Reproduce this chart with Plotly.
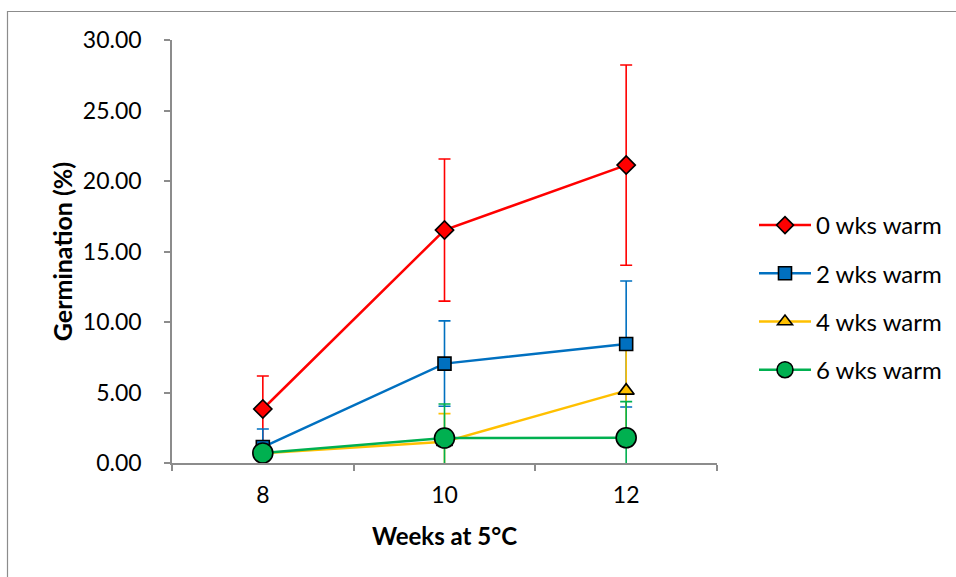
import plotly.graph_objects as go

weeks = ["8", "10", "12"]
names = ["0 wks warm", "2 wks warm", "4 wks warm", "6 wks warm"]
values = [
    [3.83, 16.52, 21.13],
    [1.13, 7.05, 8.44],
    [0.70, 1.50, 5.13],
    [0.71, 1.77, 1.79],
]
errors = [
    [2.34, 5.04, 7.10],
    [1.28, 3.03, 4.47],
    [0.30, 2.00, 3.10],
    [0.30, 2.41, 2.56],
]
colors = ["#FF0000", "#0070C0", "#FFC000", "#00B050"]
symbols = ["diamond", "square", "triangle-up", "circle"]
sizes = [14, 13, 14, 20]
legend_sizes = [13, 13, 13, 16]

W, H = 956, 577
ml, mr, mt, mb = 172, 239, 40, 114
pw, ph = W - ml - mr, H - mt - mb

fig = go.Figure()
# lines and error bars first
for n, v, e, c in zip(names, values, errors, colors):
    fig.add_trace(go.Scatter(
        x=weeks, y=v, mode="lines", line=dict(color=c, width=2.5),
        error_y=dict(type="data", array=e, visible=True, color=c, thickness=1.6, width=6),
        showlegend=False, hoverinfo="skip"))
# markers on top
for n, v, c, s, sz in zip(names, values, colors, symbols, sizes):
    fig.add_trace(go.Scatter(
        x=weeks, y=v, mode="markers",
        marker=dict(symbol=s, size=sz, color=c, line=dict(color="black", width=1.6)),
        showlegend=False, name=n))
# legend entries
for n, c, s, sz in zip(names, colors, symbols, legend_sizes):
    fig.add_trace(go.Scatter(
        x=[None], y=[None], mode="lines+markers", name=n, legendgroup=n,
        line=dict(color=c, width=2.5),
        marker=dict(symbol=s, size=sz, color=c, line=dict(color="black", width=1.6))))

def px2paper_x(px):
    return (px - ml) / pw

def px2paper_y(py):
    return (H - mb - py) / ph

fig.add_shape(type="rect", xref="paper", yref="paper",
              x0=px2paper_x(7.5), x1=px2paper_x(W + 20),
              y0=px2paper_y(H + 20), y1=px2paper_y(11.5),
              line=dict(color="#8C8C8C", width=1.2), fillcolor="rgba(0,0,0,0)", layer="below")

font = "Lato, 'Open Sans', sans-serif"
fig.update_layout(
    width=W, height=H,
    margin=dict(l=ml, r=mr, t=mt, b=mb, pad=0, autoexpand=False),
    plot_bgcolor="white", paper_bgcolor="white",
    font=dict(family=font, size=23, color="black"),
    showlegend=True,
    legend=dict(x=px2paper_x(754), y=px2paper_y(203), xanchor="left", yanchor="top",
                font=dict(size=24), tracegroupgap=14, itemsizing="trace",
                itemwidth=52, bgcolor="rgba(0,0,0,0)"),
    xaxis=dict(type="category", categoryorder="array", categoryarray=weeks,
               range=[-0.5, 2.5], showline=True, linecolor="#8C8C8C", linewidth=1.5,
               ticks="outside", tickson="boundaries", ticklen=6, tickcolor="#8C8C8C",
               tickwidth=1.5, showgrid=False, zeroline=False, automargin=False,
               tickfont=dict(size=23), ticklabelstandoff=11,
               title=dict(text="<b>Weeks at 5°C</b>", font=dict(size=24), standoff=21)),
    yaxis=dict(range=[0, 30], dtick=5, tickformat=".2f", showline=True,
               linecolor="#8C8C8C", linewidth=1.5, ticks="outside", ticklen=6,
               tickcolor="#8C8C8C", tickwidth=1.5, showgrid=False, zeroline=False,
               automargin=False,
               tickfont=dict(size=23), ticklabelstandoff=18,
               title=dict(text="<b>Germination (%)</b>", font=dict(size=25), standoff=3)),
)

fig.write_html("out.html")
